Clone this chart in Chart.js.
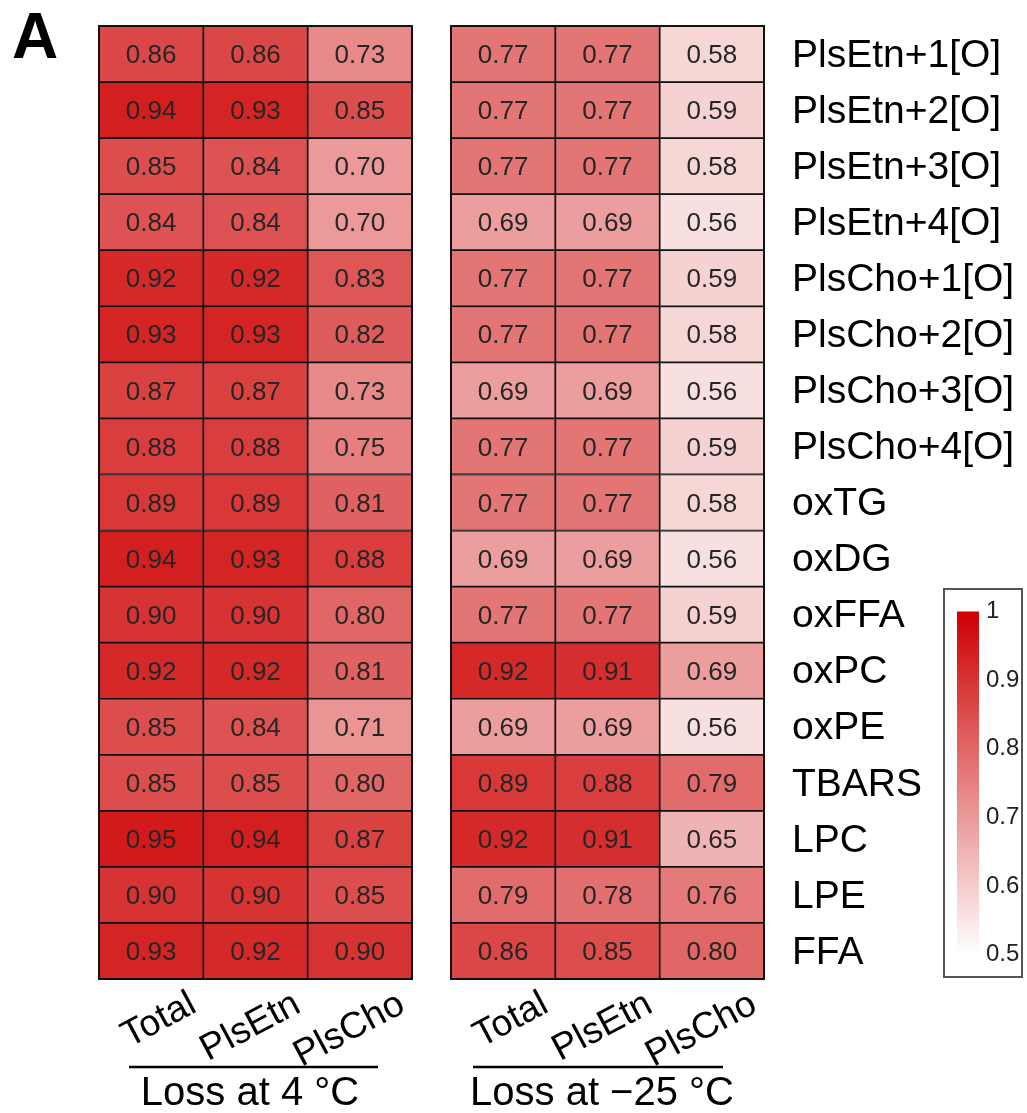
<!DOCTYPE html>
<html>
<head>
<meta charset="utf-8">
<script src="https://cdn.jsdelivr.net/npm/chart.js@4.4.1/dist/chart.umd.min.js"></script>
<style>
  html, body { margin: 0; padding: 0; background: #fff; }
  #wrap { position: relative; width: 1027px; height: 1113px; overflow: hidden; background: #fff; }
  #wrap canvas { position: absolute; }
  #cLeft { left: 0; top: 0; }
  #cRight { left: 440px; top: 0; }
  #scaleBox { position: absolute; left: 943px; top: 588px; width: 76px; height: 386px;
              border: 2px solid #555; background: #fff; }
  #scaleBox canvas { left: 0; top: 0; }
</style>
</head>
<body>
<div id="wrap">
  <canvas id="cLeft" width="440" height="1113"></canvas>
  <canvas id="cRight" width="587" height="1113"></canvas>
  <div id="scaleBox"><canvas id="cScale" width="76" height="386"></canvas></div>
</div>
<script>
// Row and column names
const rowNames = [
  'PlsEtn+1[O]', 'PlsEtn+2[O]', 'PlsEtn+3[O]', 'PlsEtn+4[O]',
  'PlsCho+1[O]', 'PlsCho+2[O]', 'PlsCho+3[O]', 'PlsCho+4[O]',
  'oxTG', 'oxDG', 'oxFFA', 'oxPC', 'oxPE', 'TBARS', 'LPC', 'LPE', 'FFA'
];
const colNames = ['Total', 'PlsEtn', 'PlsCho'];

// Loss at 4 °C
const loss4Total  = [0.86, 0.94, 0.85, 0.84, 0.92, 0.93, 0.87, 0.88, 0.89, 0.94, 0.90, 0.92, 0.85, 0.85, 0.95, 0.90, 0.93];
const loss4PlsEtn = [0.86, 0.93, 0.84, 0.84, 0.92, 0.93, 0.87, 0.88, 0.89, 0.93, 0.90, 0.92, 0.84, 0.85, 0.94, 0.90, 0.92];
const loss4PlsCho = [0.73, 0.85, 0.70, 0.70, 0.83, 0.82, 0.73, 0.75, 0.81, 0.88, 0.80, 0.81, 0.71, 0.80, 0.87, 0.85, 0.90];

// Loss at -25 °C
const loss25Total  = [0.77, 0.77, 0.77, 0.69, 0.77, 0.77, 0.69, 0.77, 0.77, 0.69, 0.77, 0.92, 0.69, 0.89, 0.92, 0.79, 0.86];
const loss25PlsEtn = [0.77, 0.77, 0.77, 0.69, 0.77, 0.77, 0.69, 0.77, 0.77, 0.69, 0.77, 0.91, 0.69, 0.88, 0.91, 0.78, 0.85];
const loss25PlsCho = [0.58, 0.59, 0.58, 0.56, 0.59, 0.58, 0.56, 0.59, 0.58, 0.56, 0.59, 0.69, 0.56, 0.79, 0.65, 0.76, 0.80];

// Colour scale ticks
const legendTicks = [0.5, 0.6, 0.7, 0.8, 0.9, 1];

const FONT = '"Liberation Sans", Arial, Helvetica, sans-serif';
const colorLow = [255, 255, 255];
const colorHigh = [205, 0, 0];
const vMin = legendTicks[0];
const vMax = legendTicks[legendTicks.length - 1];

function heatColor(v) {
  const t = Math.max(0, Math.min(1, (v - vMin) / (vMax - vMin)));
  const c = colorLow.map((a, i) => Math.round(a + (colorHigh[i] - a) * t));
  return 'rgb(' + c.join(',') + ')';
}

// Draws cell values, frame, rotated column names, group bracket and row names
function heatDecor(cfg) {
  return {
    id: 'heatDecor',
    afterDraw(chart) {
      const { ctx, chartArea: a, scales: { x, y } } = chart;
      ctx.save();

      // outer frame
      ctx.strokeStyle = '#111';
      ctx.lineWidth = 2;
      ctx.strokeRect(a.left, a.top, a.right - a.left, a.bottom - a.top);

      // cell values
      ctx.font = '26px ' + FONT;
      ctx.fillStyle = '#262626';
      ctx.textAlign = 'center';
      ctx.textBaseline = 'middle';
      chart.data.datasets.forEach((ds, di) => {
        chart.getDatasetMeta(di).data.forEach((bar, i) => {
          const cx = (bar.x + bar.base) / 2;
          ctx.fillText(ds.values[i].toFixed(2), cx, bar.y + 2);
        });
      });

      // rotated column names
      ctx.font = '37px ' + FONT;
      ctx.fillStyle = '#000';
      ctx.textAlign = 'right';
      ctx.textBaseline = 'alphabetic';
      colNames.forEach((name, c) => {
        const px = x.getPixelForValue(c + 0.5);
        ctx.save();
        ctx.translate(px + 47, a.bottom + 32);
        ctx.rotate(-28 * Math.PI / 180);
        ctx.fillText(name, 0, 0);
        ctx.restore();
      });

      // group bracket and title
      ctx.strokeStyle = '#000';
      ctx.lineWidth = 2.5;
      ctx.beginPath();
      ctx.moveTo(a.left + cfg.line[0], 1067);
      ctx.lineTo(a.left + cfg.line[1], 1067);
      ctx.stroke();
      ctx.font = '40px ' + FONT;
      ctx.textAlign = 'center';
      ctx.fillText(cfg.title, a.left + 151, 1105);

      // row names
      if (cfg.rowNames) {
        ctx.font = '39px ' + FONT;
        ctx.textAlign = 'left';
        ctx.textBaseline = 'middle';
        rowNames.forEach((name, i) => {
          ctx.fillText(name, a.right + 28, y.getPixelForValue(i) + 2);
        });
      }

      // panel letter
      if (cfg.letter) {
        ctx.font = 'bold 64px ' + FONT;
        ctx.textAlign = 'left';
        ctx.textBaseline = 'alphabetic';
        ctx.fillText(cfg.letter, 12, 58);
      }
      ctx.restore();
    }
  };
}

function makeHeatmap(id, columns, padding, cfg) {
  const datasets = columns.map((vals, c) => ({
    label: colNames[c],
    data: vals.map(() => [c, c + 1]),
    values: vals,
    backgroundColor: vals.map(heatColor),
    borderColor: '#111',
    borderWidth: 1.2,
    borderSkipped: false,
    grouped: false,
    barPercentage: 1,
    categoryPercentage: 1
  }));
  return new Chart(document.getElementById(id), {
    type: 'bar',
    data: { labels: rowNames, datasets },
    options: {
      indexAxis: 'y',
      responsive: false,
      animation: false,
      devicePixelRatio: 1,
      layout: { padding },
      plugins: { legend: { display: false }, tooltip: { enabled: false } },
      scales: {
        x: { type: 'linear', min: 0, max: colNames.length, display: false, stacked: false },
        y: { type: 'category', display: false, offset: true }
      }
    },
    plugins: [heatDecor(cfg)]
  });
}

makeHeatmap('cLeft', [loss4Total, loss4PlsEtn, loss4PlsCho],
  { left: 99, right: 28, top: 26, bottom: 134 },
  { title: 'Loss at 4 °C', line: [30, 279], letter: 'A' });

makeHeatmap('cRight', [loss25Total, loss25PlsEtn, loss25PlsCho],
  { left: 11, right: 263, top: 26, bottom: 134 },
  { title: 'Loss at \u221225 °C', line: [22, 272], rowNames: true });

// Colour scale bar
new Chart(document.getElementById('cScale'), {
  type: 'bar',
  data: {
    labels: [''],
    datasets: [{
      data: [[vMin, vMax]],
      barPercentage: 1,
      categoryPercentage: 1,
      borderWidth: 0,
      backgroundColor(ctx) {
        const area = ctx.chart.chartArea;
        if (!area) return heatColor(vMax);
        const g = ctx.chart.ctx.createLinearGradient(0, area.bottom, 0, area.top);
        legendTicks.forEach(v => g.addColorStop((v - vMin) / (vMax - vMin), heatColor(v)));
        return g;
      }
    }]
  },
  options: {
    responsive: false,
    animation: false,
    devicePixelRatio: 1,
    layout: { padding: { left: 12, top: 13, bottom: 19, right: 0 } },
    plugins: { legend: { display: false }, tooltip: { enabled: false } },
    scales: {
      x: { display: false },
      y: {
        position: 'right',
        min: vMin,
        max: vMax,
        afterFit(scale) { scale.width = 42; },
        afterBuildTicks(scale) { scale.ticks = legendTicks.map(v => ({ value: v })); },
        grid: { display: false, drawTicks: false },
        border: { display: false },
        ticks: {
          padding: 7,
          color: '#222',
          font: { family: FONT, size: 24 },
          callback: v => (v === 1 ? '1' : v.toFixed(1))
        }
      }
    }
  }
});
</script>
</body>
</html>
